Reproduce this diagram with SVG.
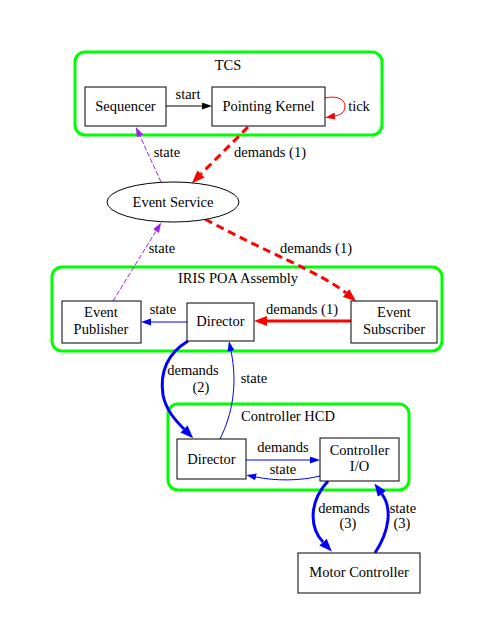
<svg xmlns="http://www.w3.org/2000/svg" width="498" height="637" viewBox="0 0 498 637">
<style>
text{text-anchor:middle;fill:#000}
.cluster{fill:none;stroke:#00ff00;stroke-width:3}
.node{fill:#fff;stroke:#000;stroke-width:1}
.e{fill:none}
</style>
<defs>
<marker id="aBlack" markerUnits="userSpaceOnUse" markerWidth="11" markerHeight="8" refX="0" refY="3.5" orient="auto"><path d="M0,0L10,3.5L0,7z" fill="#000"/></marker>
<marker id="aRed" markerUnits="userSpaceOnUse" markerWidth="11" markerHeight="8" refX="0" refY="3.5" orient="auto"><path d="M0,0L10,3.5L0,7z" fill="#f00"/></marker>
<marker id="aRedB" markerUnits="userSpaceOnUse" markerWidth="14" markerHeight="11" refX="0" refY="5" orient="auto"><path d="M0,0L13,5L0,10z" fill="#f00"/></marker>
<marker id="aPurple" markerUnits="userSpaceOnUse" markerWidth="11" markerHeight="8" refX="0" refY="3.5" orient="auto"><path d="M0,0L10,3.5L0,7z" fill="#a020f0"/></marker>
<marker id="aBlue" markerUnits="userSpaceOnUse" markerWidth="11" markerHeight="8" refX="0" refY="3.5" orient="auto"><path d="M0,0L10,3.5L0,7z" fill="#00f"/></marker>
<marker id="aBlueB" markerUnits="userSpaceOnUse" markerWidth="14" markerHeight="11" refX="0" refY="5" orient="auto"><path d="M0,0L13,5L0,10z" fill="#00f"/></marker>
</defs>
<rect width="498" height="637" fill="#fff"/>
<g font-family="Liberation Serif, Times New Roman, serif" font-size="14.5">
<g id="cluster_tcs"><rect class="cluster" x="75" y="52" width="307" height="83" rx="10"/><text x="228" y="70">TCS</text></g>
<g id="cluster_iris"><rect class="cluster" x="52" y="267" width="390" height="84" rx="10"/><text x="238" y="283">IRIS POA Assembly</text></g>
<g id="cluster_hcd"><rect class="cluster" x="168" y="404" width="241" height="86" rx="10"/><text x="288" y="421">Controller HCD</text></g>
<g id="edges">
<path class="e" d="M166,106L202,106" stroke="#000" marker-end="url(#aBlack)"/>
<text x="188" y="99">start</text>
<path class="e" d="M325,98C338,95 345,100 345,106C345,112 341,115 335,116" stroke="#f00" marker-end="url(#aRed)"/>
<text x="359" y="111">tick</text>
<path class="e" d="M161,182L140,136" stroke="#a020f0" stroke-dasharray="5,2" marker-end="url(#aPurple)"/>
<text x="167" y="157">state</text>
<path class="e" d="M248,127L201,174" stroke="#f00" stroke-width="3" stroke-dasharray="8,5" marker-end="url(#aRedB)"/>
<text x="270" y="157">demands (1)</text>
<path class="e" d="M205,219C265,252 320,272 346,293" stroke="#f00" stroke-width="3" stroke-dasharray="8,5" marker-end="url(#aRedB)"/>
<text x="316" y="253">demands (1)</text>
<path class="e" d="M113,301L156,231" stroke="#a020f0" stroke-dasharray="5,2" marker-end="url(#aPurple)"/>
<text x="162" y="253">state</text>
<path class="e" d="M187,322L151,322" stroke="#00f" marker-end="url(#aBlue)"/>
<text x="163" y="314">state</text>
<path class="e" d="M351,321L267,321" stroke="#f00" stroke-width="3" marker-end="url(#aRedB)"/>
<text x="302" y="314">demands (1)</text>
<path class="e" d="M188,341C165,355 160,375 163,395C166,410 175,420 184,429" stroke="#00f" stroke-width="3" marker-end="url(#aBlueB)"/>
<text x="193" y="375">demands</text><text x="201" y="392">(2)</text>
<path class="e" d="M220,439C232,415 238,385 231,351" stroke="#00f" marker-end="url(#aBlue)"/>
<text x="254" y="383">state</text>
<path class="e" d="M246,460L310,460" stroke="#00f" marker-end="url(#aBlue)"/>
<text x="283" y="452">demands</text>
<path class="e" d="M320,476C300,481 275,481 256,477" stroke="#00f" marker-end="url(#aBlue)"/>
<text x="283" y="474">state</text>
<path class="e" d="M328,481C308,503 310,528 323,542" stroke="#00f" stroke-width="3" marker-end="url(#aBlueB)"/>
<text x="344" y="513">demands</text><text x="348" y="528">(3)</text>
<path class="e" d="M375,553C390,530 392,508 382,494" stroke="#00f" stroke-width="3" marker-end="url(#aBlueB)"/>
<text x="403" y="513">state</text><text x="402" y="528">(3)</text>
</g>
<g id="sequencer"><rect class="node" x="85" y="87" width="81" height="39"/><text x="125.5" y="111">Sequencer</text></g>
<g id="pointing_kernel"><rect class="node" x="212" y="87" width="113" height="39"/><text x="268.5" y="111">Pointing Kernel</text></g>
<g id="event_service"><ellipse class="node" cx="173" cy="202" rx="66" ry="20"/><text x="173" y="207">Event Service</text></g>
<g id="event_publisher"><rect class="node" x="62" y="301" width="79" height="42"/><text x="101" y="317">Event</text><text x="101" y="334">Publisher</text></g>
<g id="iris_director"><rect class="node" x="187" y="303" width="67" height="38"/><text x="220.5" y="326">Director</text></g>
<g id="event_subscriber"><rect class="node" x="351" y="301" width="86" height="42"/><text x="394" y="317">Event</text><text x="394" y="334">Subscriber</text></g>
<g id="hcd_director"><rect class="node" x="177" y="439" width="69" height="40"/><text x="211.5" y="464">Director</text></g>
<g id="controller_io"><rect class="node" x="320" y="438" width="79" height="43"/><text x="359.5" y="455">Controller</text><text x="359.5" y="471">I/O</text></g>
<g id="motor_controller"><rect class="node" x="298" y="553" width="122" height="40"/><text x="359" y="577">Motor Controller</text></g>
</g>
</svg>
